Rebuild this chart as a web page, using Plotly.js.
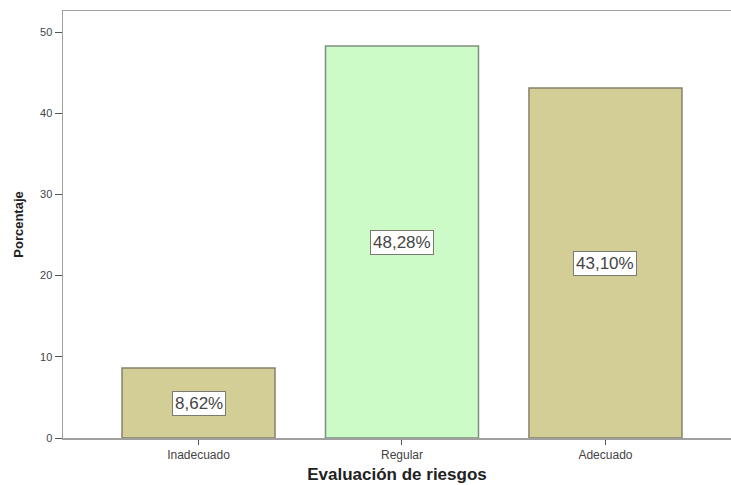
<!DOCTYPE html>
<html>
<head>
<meta charset="utf-8">
<script src="https://cdn.plot.ly/plotly-3.0.1.min.js"></script>
<style>html,body{margin:0;padding:0;background:#fff;}#chart{width:731px;height:485px;}</style>
</head>
<body>
<div id="chart"></div>
<script>
var categories = ["Inadecuado", "Regular", "Adecuado"];
var values = [8.62, 48.28, 43.10];
var labels = ["8,62%", "48,28%", "43,10%"];
var barColors = ["#d3cd96", "#ccfbc8", "#d3cd96"];
var edgeColors = ["#85826a", "#7f8f7f", "#85826a"];

var trace = {
  type: "bar",
  x: categories,
  y: values,
  marker: {color: barColors, line: {color: edgeColors, width: 1.5}},
  hoverinfo: "none"
};

var annotations = categories.map(function (c, i) {
  return {
    x: c, y: values[i] / 2, xref: "x", yref: "y",
    text: labels[i], showarrow: false,
    font: {family: "Arial, Liberation Sans, sans-serif", size: 17, color: "#454545"},
    bgcolor: "#ffffff", bordercolor: "#7a7a70", borderwidth: 1, borderpad: 2
  };
});

var layout = {
  width: 731, height: 485,
  margin: {l: 63, r: 0, t: 11, b: 47},
  paper_bgcolor: "#ffffff", plot_bgcolor: "#ffffff",
  showlegend: false,
  bargap: 0.248,
  xaxis: {
    type: "category",
    range: [-0.666, 2.617],
    showline: true, linecolor: "#a0a0a0", linewidth: 1.5, mirror: true,
    ticks: "outside", ticklen: 5, tickcolor: "#555", tickwidth: 1,
    showgrid: false, zeroline: false,
    tickfont: {family: "Arial, Liberation Sans, sans-serif", size: 12, color: "#444"},
    title: {text: "Evaluación de riesgos", standoff: 7,
      font: {family: "Arial, Liberation Sans, sans-serif", size: 17, color: "#222", weight: "bold"}}
  },
  yaxis: {
    range: [0, 52.6],
    tickvals: [0, 10, 20, 30, 40, 50],
    showline: true, linecolor: "#a0a0a0", linewidth: 1.5,
    ticks: "outside", ticklen: 7, tickcolor: "#555", tickwidth: 1,
    showgrid: false, zeroline: false,
    tickfont: {family: "Arial, Liberation Sans, sans-serif", size: 11, color: "#444"},
    title: {text: "Porcentaje", standoff: 13,
      font: {family: "Arial, Liberation Sans, sans-serif", size: 13, color: "#222", weight: "bold"}}
  },
  annotations: annotations
};

Plotly.newPlot("chart", [trace], layout, {displayModeBar: false, staticPlot: true});
</script>
</body>
</html>
